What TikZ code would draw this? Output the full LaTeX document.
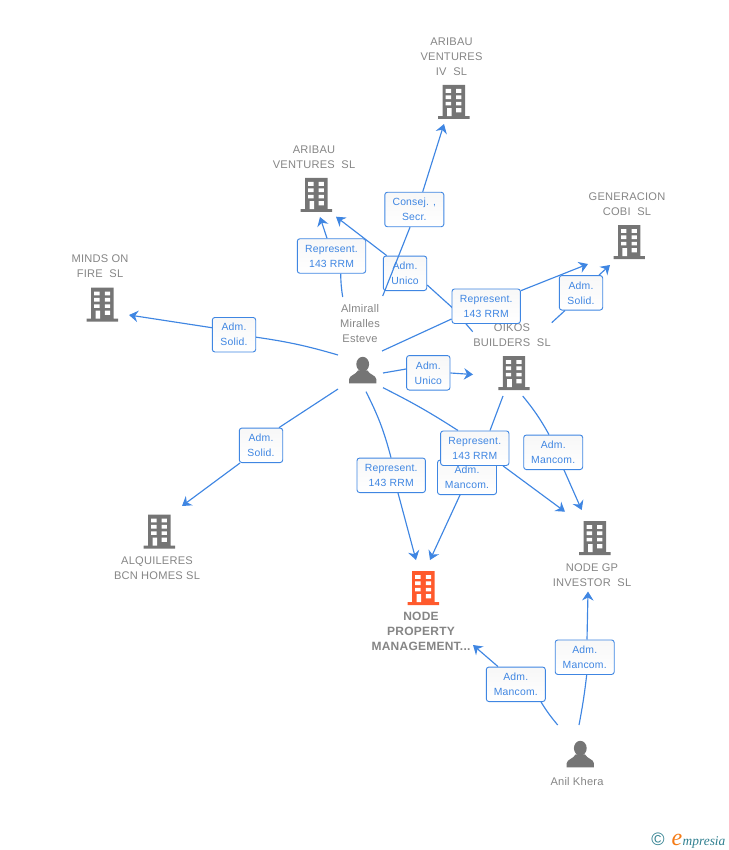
\documentclass[tikz,border=0pt]{standalone}
\usepackage{fontspec}
\setmainfont[LetterSpace=2]{Liberation Sans}
\newfontfamily\logofont{Liberation Serif}
\usetikzlibrary{arrows.meta,backgrounds}
\definecolor{linkblue}{HTML}{3F86E2}
\definecolor{lbltext}{HTML}{3F86E2}
\definecolor{namegrey}{HTML}{858585}
\definecolor{icongrey}{HTML}{757575}
\definecolor{iconorange}{HTML}{FF5A2C}
\definecolor{logoteal}{HTML}{2F7F8F}
\definecolor{logoorange}{HTML}{F47B16}
\tikzset{
  lbl/.style={draw=linkblue,line width=0.9pt,rounded corners=2.6pt,top color=black!3,bottom color=white,
    text=lbltext,align=center,inner sep=0pt,font=\fontsize{10.4}{15}\selectfont,minimum height=34.5pt},
  repbox/.style={lbl,minimum width=68.4pt},
  manbox/.style={lbl,minimum width=59pt},
  admbox/.style={lbl,minimum width=43.4pt},
  namelbl/.style={text=namegrey,align=center,inner sep=0pt,font=\fontsize{11.1}{15}\selectfont},
  mainlbl/.style={namelbl,font=\fontsize{12}{15}\selectfont\bfseries},
  link/.style={draw=linkblue,line width=1.15pt},
  linkto/.style={link,-{Stealth[length=9pt,width=11.5pt,inset=3pt]}},
}
\newcommand{\bldg}[4]{%
  \coordinate (#1) at (#2,#3+17);
  \begin{scope}[shift={(#2,#3)}]
    \fill[#4] (-11.2,0) rectangle (11.2,32) (-15.7,31.2) rectangle (15.7,34);
    \fill[white] (-8.2,4) rectangle (-2.8,7.8) (2.4,4) rectangle (7.6,7.8)
      (-8.2,10.4) rectangle (-2.8,14.2) (2.4,10.4) rectangle (7.6,14.2)
      (-8.2,16.8) rectangle (-2.8,20.4) (2.4,16.8) rectangle (7.6,20.4)
      (-6.8,23.2) rectangle (-2.2,31.2) (2.4,23.2) rectangle (7.6,27.4);
  \end{scope}}
\newcommand{\persona}[3]{%
  \coordinate (#1) at (#2,#3+13);
  \begin{scope}[shift={(#2,#3)}]
    \fill[icongrey] (0,7.4) ellipse (6.4 and 7.4);
    \fill[icongrey] (-13.6,26.6) -- (-13.6,22.4) .. controls (-13.4,18.4) and (-6.8,18) .. (-4.6,13.5)
      -- (4.6,13.5) .. controls (6.8,18) and (13.4,18.4) .. (13.6,22.4) -- (13.6,26.6) -- cycle;
  \end{scope}}
\begin{document}
\begin{tikzpicture}[x=1pt,y=-1pt]
\useasboundingbox (0,0) rectangle (728,850);
% icons
\bldg{bIV}{453.8}{85}{icongrey}
\bldg{bAR}{316.3}{178}{icongrey}
\bldg{bGE}{629.2}{225}{icongrey}
\bldg{bMI}{102.4}{287.5}{icongrey}
\bldg{bOI}{514}{356}{icongrey}
\bldg{bNG}{594.8}{521}{icongrey}
\bldg{bNP}{423.4}{571}{iconorange}
\bldg{bAL}{159.3}{514.5}{icongrey}
\persona{pAM}{362.7}{356.8}
\persona{pAK}{580.3}{740.8}
% names
\node[namelbl] (nIV) at (451.5,56.7) {ARIBAU\\VENTURES\\IV\ \ SL};
\node[namelbl] (nAR) at (314,157.2) {ARIBAU\\VENTURES\ \ SL};
\node[namelbl] (nGE) at (627,204.2) {GENERACION\\COBI\ \ SL};
\node[namelbl] (nMI) at (100,266.2) {MINDS ON\\FIRE\ \ SL};
\node[namelbl] (nAM) at (360,323.4) {Almirall\\Miralles\\Esteve};
\node[namelbl] (nOI) at (512,335) {OIKOS\\BUILDERS\ \ SL};
\node[namelbl] (nAL) at (157,568) {ALQUILERES\\BCN HOMES SL};
\node[namelbl] (nNG) at (592,575) {NODE GP\\INVESTOR\ \ SL};
\node[mainlbl] (nNP) at (421,631.5) {NODE\\PROPERTY\\MANAGEMENT...};
\node[namelbl] (nAK) at (577,781.4) {Anil Khera};
% free ends
\coordinate (s1) at (382.7,296);   \coordinate (t1) at (444,124);
\coordinate (s2) at (342.7,297);   \coordinate (t2) at (320,217);
\coordinate (s3) at (472.7,331.7); \coordinate (t3) at (336,216.7);
\coordinate (s4) at (382,351);     \coordinate (t4) at (588,264);
\coordinate (s5) at (551.7,322.7); \coordinate (t5) at (610,265);
\coordinate (s6) at (338,355);     \coordinate (t6) at (129,315);
\coordinate (s7) at (338,389);     \coordinate (t7) at (182,506);
\coordinate (s8) at (383,373);     \coordinate (t8) at (473,374.5);
\coordinate (s9) at (383,387.7);   \coordinate (t9) at (565,511.7);
\coordinate (s10) at (503,396);    \coordinate (t10) at (430,560);
\coordinate (s11) at (366,391.7);  \coordinate (t11) at (416,560);
\coordinate (s12) at (522.7,396);  \coordinate (t12) at (581.7,510);
\coordinate (s13) at (579,725);    \coordinate (t13) at (588,591.5);
\coordinate (s14) at (557.7,725);  \coordinate (t14) at (473,645);
% label boxes
\node[manbox] (lCS) at (414.3,209.5) {Consej. ,\\Secr.};
\node[repbox] (lR1) at (331.5,256) {Represent.\\143 RRM};
\node[admbox] (lU1) at (405,273.3) {Adm.\\Unico};
\node[repbox] (lR2) at (486.2,306.2) {Represent.\\143 RRM};
\node[admbox] (lS1) at (581,292.8) {Adm.\\Solid.};
\node[admbox] (lS2) at (234,334.7) {Adm.\\Solid.};
\node[admbox] (lS3) at (261,445.3) {Adm.\\Solid.};
\node[admbox] (lU2) at (428.3,372.8) {Adm.\\Unico};
\node[manbox] (lM1) at (467,477.3) {Adm.\\Mancom.};
\node[repbox] (lR3) at (474.8,448.2) {Represent.\\143 RRM};
\node[repbox] (lR4) at (391.2,475.3) {Represent.\\143 RRM};
\node[manbox] (lM2) at (553.2,452.3) {Adm.\\Mancom.};
\node[manbox] (lM3) at (584.7,657.2) {Adm.\\Mancom.};
\node[manbox] (lM4) at (515.8,684.3) {Adm.\\Mancom.};
% links behind the boxes
\begin{pgfonlayer}{background}
\draw[linkto] ([xshift=8.4]lCS.north) -- (t1);
\draw[link] (s2) to[bend left=4] ([xshift=9.2]lR1.south);
\draw[linkto] ([xshift=-4.5]lR1.north) -- (t2);
\draw[link] (s3) -- ([yshift=-0.8]lR2.west);
\draw[link] ([yshift=-0.8]lR2.west) -- ([yshift=-11.7]lU1.east);
\draw[linkto] ([xshift=-18.3]lU1.north) -- (t3);
\draw[link] (s4) -- ([yshift=-12.8]lR2.west);
\draw[linkto] ([yshift=15.5]lR2.east) -- (t4);
\draw[link] (s5) -- ([xshift=-16]lS1.south);
\draw[linkto] ([xshift=18]lS1.north) -- (t5);
\draw[link] (s6) to[bend right=4] ([yshift=-2.5]lS2.east);
\draw[linkto] ([yshift=7]lS2.west) -- (t6);
\draw[link] (s7) -- ([xshift=18]lS3.north);
\draw[linkto] ([xshift=-21]lS3.south) -- (t7);
\draw[link] (s8) -- ([yshift=3.8]lU2.west);
\draw[linkto] ([yshift=-0.2]lU2.east) -- (t8);
\draw[link] (s9) to[bend left=3] ([xshift=-16.8]lR3.north);
\draw[linkto] ([xshift=28.2]lR3.south) -- (t9);
\draw[link] (s10) -- ([xshift=15.2]lR3.north);
\draw[linkto] ([xshift=-7]lM1.south) -- (t10);
\draw[link] (s11) to[bend left=6] ([xshift=-0.2]lR4.north);
\draw[linkto] ([xshift=6.8]lR4.south) -- (t11);
\draw[link] (s12) to[bend left=5] ([xshift=-4.2]lM2.north);
\draw[linkto] ([xshift=10.8]lM2.south) -- (t12);
\draw[link] (s13) to[bend right=2] ([xshift=2]lM3.south);
\draw[linkto] ([xshift=2.3]lM3.north) -- (t13);
\draw[link] (s14) to[bend left=4] ([xshift=25.2]lM4.south);
\draw[linkto] ([xshift=-17.8]lM4.north) -- (t14);
\end{pgfonlayer}
% this one runs over the Adm. Unico box
\draw[link] ([xshift=-4.3]lCS.south) -- (s1);
% logo
\node[inner sep=0pt,text=logoteal,font=\fontsize{18}{18}\selectfont] (lgC) at (658,839.5) {\textcopyright};
\node[inner sep=0pt,anchor=base west,text=logoorange,font=\logofont\itshape\fontsize{24}{24}\selectfont] (lgE) at (671.5,845) {e};
\node[inner sep=0pt,anchor=base west,text=logoteal,font=\logofont\itshape\fontsize{13.4}{13.4}\selectfont] (lgT) at (682.5,845) {mpresia};
\end{tikzpicture}
\end{document}
